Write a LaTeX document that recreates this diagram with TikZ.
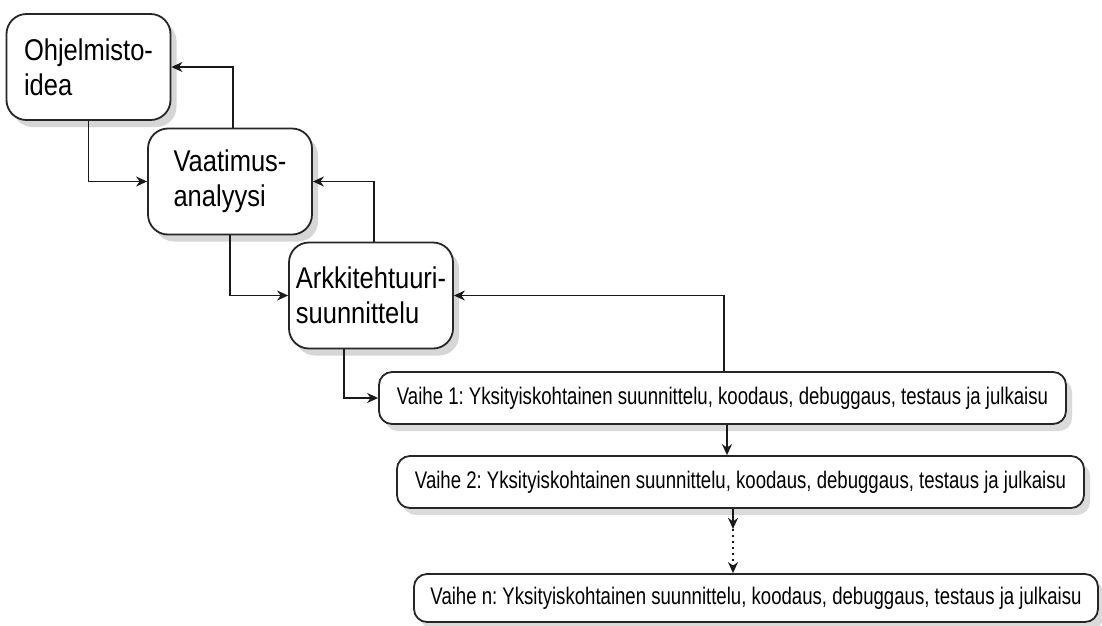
\documentclass[tikz,border=0pt]{standalone}
\usepackage{fontspec}
\setmainfont{Liberation Sans}
\newfontfamily\bigfont[FakeStretch=0.85]{Liberation Sans}
\newfontfamily\phasefont[FakeStretch=0.775]{Liberation Sans}
\usetikzlibrary{arrows.meta,shadows,calc}
\frenchspacing

\tikzset{
  stage/.style={draw=black!85, line width=1.8pt, fill=white, rounded corners=20pt,
    minimum width=164pt, minimum height=106pt, inner sep=0pt, align=left,
    font=\bigfont\fontsize{30}{35}\selectfont,
    drop shadow={shadow xshift=6pt, shadow yshift=-7pt, fill=black!16, opacity=1}},
  phase/.style={draw=black!85, line width=1.8pt, fill=white, rounded corners=13pt,
    minimum width=687pt, minimum height=52pt, inner sep=0pt,
    font=\phasefont\fontsize{24}{28}\selectfont,
    drop shadow={shadow xshift=6pt, shadow yshift=-7pt, fill=black!14, opacity=1}},
  link/.style={draw=black!90, line width=1.5pt,
    -{Stealth[length=11pt,width=10pt,inset=3.5pt]}},
}

\begin{document}
\begin{tikzpicture}[x=1pt,y=-1pt]
  \useasboundingbox (0,0) rectangle (1102,625);

  % the three early stages
  \node[stage] (idea) at (88.5,67)  {Ohjelmisto-\\idea};
  \node[stage] (req)  at (230,181.5) {Vaatimus-\\analyysi};
  \node[stage] (arch) at (371,295.5) {Arkkitehtuuri-\\suunnittelu};

  % iterative phases
  \node[phase] (p1) at (722.5,398) {Vaihe 1: Yksityiskohtainen suunnittelu, koodaus, debuggaus, testaus ja julkaisu};
  \node[phase] (p2) at (740.5,482) {Vaihe 2: Yksityiskohtainen suunnittelu, koodaus, debuggaus, testaus ja julkaisu};
  \node[phase, minimum width=684pt, minimum height=48pt] (pn) at (756,598) {Vaihe n: Yksityiskohtainen suunnittelu, koodaus, debuggaus, testaus ja julkaisu};

  % forward and feedback links between stages
  \draw[link] (idea.south) |- (req.west);
  \draw[link] ([xshift=3pt]req.north) |- (idea.east);
  \draw[link] (req.south) |- (arch.west);
  \draw[link] ([xshift=3pt]arch.north) |- (req.east);
  \draw[link] ([xshift=-27pt]arch.south) |- (p1.west);
  \draw[link] ([xshift=1.5pt]p1.north) |- (arch.east);

  % flow between phases
  \coordinate (a1) at ([xshift=4.5pt]p1.south);
  \draw[link] (a1) -- (a1 |- p2.north);
  \coordinate (a2) at ([xshift=-7.5pt]p2.south);
  \coordinate (a3) at ($(a2)+(0,20)$);
  \draw[link] (a2) -- (a3);
  \draw[link, dash pattern=on 2pt off 4pt] (a3) -- (a3 |- pn.north);
\end{tikzpicture}
\end{document}
